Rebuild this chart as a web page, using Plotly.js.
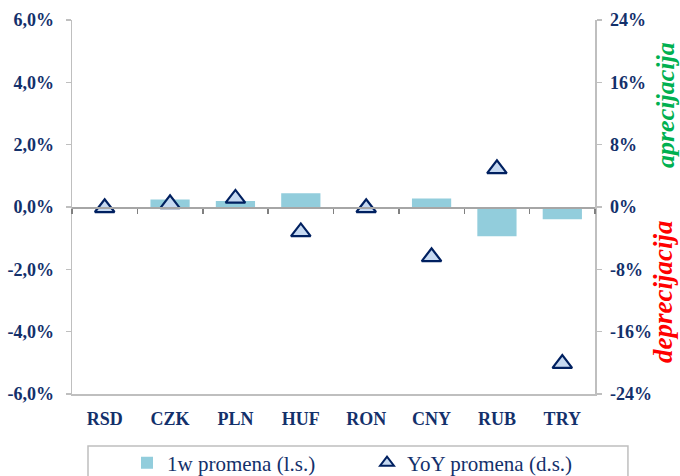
<!DOCTYPE html>
<html>
<head>
<meta charset="utf-8">
<script src="https://cdn.plot.ly/plotly-3.0.1.min.js"></script>
<style>html,body{margin:0;padding:0;background:#fff;}#chart{width:680px;height:476px;}</style>
</head>
<body>
<div id="chart"></div>
<script>
const categories = ["RSD", "CZK", "PLN", "HUF", "RON", "CNY", "RUB", "TRY"];
const weekChange = [0.0, 0.24, 0.19, 0.44, 0.0, 0.27, -0.94, -0.39];
const yoyChange = [-0.1, 0.4, 1.1, -3.2, -0.1, -6.4, 4.9, -20.1];
const leftTickVals = [-6, -4, -2, 0, 2, 4, 6];
const leftTickText = ["-6,0%", "-4,0%", "-2,0%", "0,0%", "2,0%", "4,0%", "6,0%"];
const rightTickVals = [-24, -16, -8, 0, 8, 16, 24];
const rightTickText = ["-24%", "-16%", "-8%", "0%", "8%", "16%", "24%"];

const navy = "#13306b";
const gray = "#bfbfbf";
const serif = "'Liberation Serif', 'Times New Roman', serif";
const tickFont = {family: serif, size: 18, color: navy, weight: "bold"};

const traces = [
  {
    type: "bar", x: categories, y: weekChange, name: "1w promena (l.s.)",
    marker: {color: "#92cddc"}, width: 0.6, xaxis: "x", yaxis: "y", hoverinfo: "skip"
  },
  {
    type: "scatter", mode: "markers", x: categories, y: yoyChange, name: "YoY promena (d.s.)",
    marker: {symbol: "triangle-up", size: 17, color: "#c6d9f1", line: {color: "#002060", width: 2.2}},
    xaxis: "x", yaxis: "y2", hoverinfo: "skip"
  },
  {
    type: "scatter", mode: "markers", x: categories, y: weekChange, showlegend: false,
    marker: {opacity: 0}, xaxis: "x2", yaxis: "y", hoverinfo: "skip"
  }
];

const layout = {
  width: 680, height: 476,
  margin: {l: 72, r: 85, t: 20, b: 82, autoexpand: false},
  paper_bgcolor: "#fff", plot_bgcolor: "#fff",
  font: {family: serif, color: navy},
  showlegend: true,
  legend: {
    orientation: "h", x: (127 - 72) / 523, xanchor: "left", y: (394 - 463) / 374, yanchor: "middle",
    font: {family: serif, size: 21, color: navy},
    bgcolor: "rgba(0,0,0,0)", itemwidth: 30, itemsizing: "constant", entrywidth: 195
  },
  xaxis: {
    type: "category", categoryorder: "array", categoryarray: categories,
    range: [-0.5, 7.5], showline: true, linecolor: gray, linewidth: 1.5,
    ticks: "", showgrid: false, zeroline: false, tickfont: tickFont, ticklabelstandoff: 8
  },
  xaxis2: {
    type: "category", categoryorder: "array", categoryarray: categories,
    range: [-0.5, 7.5], overlaying: "x", anchor: "free", position: 0.5,
    showline: true, linecolor: "#a6a6a6", linewidth: 1.5, ticks: "outside",
    tickson: "boundaries", ticklen: 5, tickcolor: "#808080", tickwidth: 1.5,
    showticklabels: false, showgrid: false, zeroline: false
  },
  yaxis: {
    range: [-6, 6], tickvals: leftTickVals, ticktext: leftTickText,
    showline: true, linecolor: gray, linewidth: 1.5, ticks: "outside", ticklen: 5,
    tickcolor: gray, tickwidth: 1.5, showgrid: false, zeroline: false, tickfont: tickFont,
    ticklabelstandoff: 8
  },
  yaxis2: {
    range: [-24, 24], tickvals: rightTickVals, ticktext: rightTickText,
    overlaying: "y", side: "right", anchor: "x",
    showline: true, linecolor: gray, linewidth: 1.5, ticks: "outside", ticklen: 5,
    tickcolor: gray, tickwidth: 1.5, showgrid: false, zeroline: false, tickfont: tickFont,
    ticklabelstandoff: 5
  },
  shapes: [
    {type: "rect", xref: "paper", yref: "paper", x0: 0.0306, x1: 1.063, y0: -0.139, y1: -0.26,
     line: {color: gray, width: 1.5}, fillcolor: "rgba(0,0,0,0)", layer: "below"}
  ],
  annotations: [
    {text: "aprecijacija", xref: "paper", yref: "paper", x: (665 - 72) / 523, y: (394 - 105) / 374,
     showarrow: false, textangle: -90, xanchor: "center", yanchor: "middle",
     font: {family: serif, size: 26, color: "#00b050", weight: "bold", style: "italic"}},
    {text: "deprecijacija", xref: "paper", yref: "paper", x: (663 - 72) / 523, y: (394 - 292) / 374,
     showarrow: false, textangle: -90, xanchor: "center", yanchor: "middle",
     font: {family: serif, size: 27, color: "#ff0000", weight: "bold", style: "italic"}}
  ]
};

Plotly.newPlot("chart", traces, layout, {staticPlot: true, displayModeBar: false});
</script>
</body>
</html>
